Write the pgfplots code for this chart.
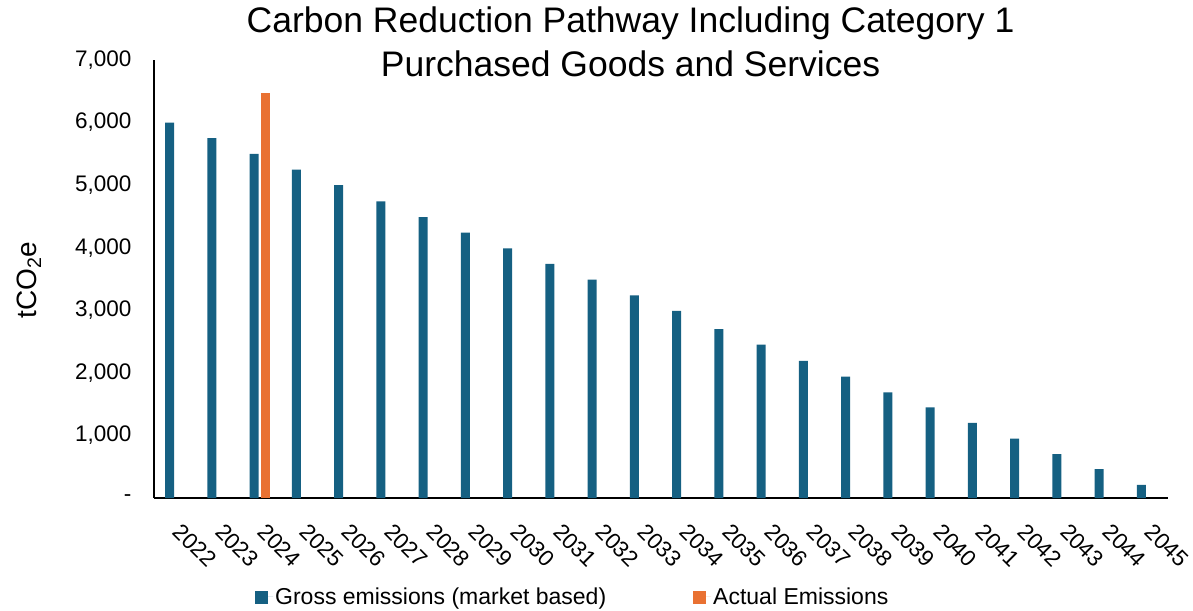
\documentclass[border=0pt]{standalone}
\usepackage{fontspec}
\setmainfont{Liberation Sans}
\usepackage{pgfplots}
\pgfplotsset{compat=1.18}
\definecolor{cblue}{HTML}{156082}
\definecolor{corange}{HTML}{E97132}
\begin{document}
\begin{tikzpicture}
\useasboundingbox (-154pt,-112pt) rectangle (1039pt,498pt);
\begin{axis}[
  at={(0pt,0pt)}, anchor=south west,
  scale only axis, width=1014pt, height=438pt,
  ybar=2pt, bar width=9pt,
  xmin=-0.5, xmax=23.5, ymin=0, ymax=7000,
  xtick={0,...,23},
  xticklabels={2022,2023,2024,2025,2026,2027,2028,2029,2030,2031,2032,2033,2034,2035,2036,2037,2038,2039,2040,2041,2042,2043,2044,2045},
  ytick={0,1000,2000,3000,4000,5000,6000,7000},
  yticklabels={-,{1,000},{2,000},{3,000},{4,000},{5,000},{6,000},{7,000}},
  axis x line*=bottom, axis y line*=left,
  axis line style={black, line width=1.5pt, -},
  major tick length=0pt,
  tick label style={font=\fontsize{22.5}{26}\selectfont},
  yticklabel style={xshift=-19pt},
  xticklabel style={rotate=-45, anchor=north west, xshift=19pt, yshift=-8pt},
  title={Carbon Reduction Pathway Including Category 1\\Purchased Goods and Services},
  title style={align=center, font=\fontsize{35.5}{44}\selectfont, at={(axis description cs:0.470,1.0274)}, anchor=center},
  ylabel={tCO\textsubscript{2}e},
  ylabel style={font=\fontsize{28}{30}\selectfont, at={(axis description cs:-0.1234,0.4977)}, anchor=center},
  legend style={at={(axis description cs:0.413,-0.226)}, anchor=center, draw=none, font=\fontsize{23}{26}\selectfont, legend columns=2, /tikz/every even column/.append style={column sep=85pt}},
  legend image code/.code={\fill[#1, draw=none] (0pt,-7pt) rectangle (13pt,6pt); \path (0pt,0pt) -- (18pt,0pt);},
]
\addplot[fill=cblue, draw=none] coordinates {
(0,6000) (1,5750) (2,5500) (3,5250) (4,5000) (5,4740) (6,4490) (7,4240) (8,3990) (9,3740) (10,3490) (11,3240) (12,2990) (13,2700) (14,2450) (15,2190) (16,1940) (17,1690) (18,1450) (19,1200) (20,950) (21,700) (22,460) (23,210)};
\addlegendentry{Gross emissions (market based)}
\addplot[fill=corange, draw=none] coordinates {(2,6480)};
\addlegendentry{Actual Emissions}
\end{axis}
\end{tikzpicture}
\end{document}
